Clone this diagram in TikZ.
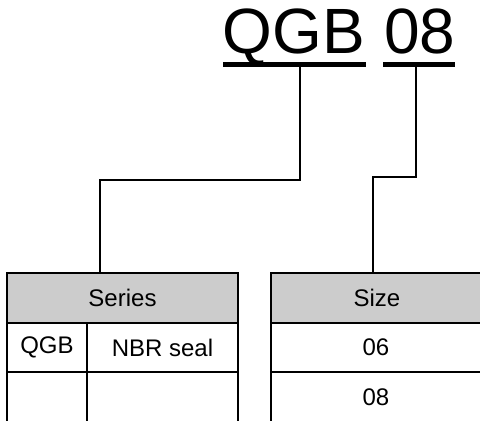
\documentclass[tikz,border=0pt]{standalone}
\usepackage{fontspec}
\setmainfont{Liberation Sans}
\definecolor{hdrgray}{HTML}{CCCCCC}
\begin{document}
\begin{tikzpicture}[x=1pt,y=-1pt,
  title/.style={inner sep=0pt, anchor=base, font=\fontsize{64}{74}\selectfont},
  ulbar/.style={fill=black, draw=none, inner sep=0pt, minimum height=4.5pt},
  hdr/.style={draw, line width=2.2pt, fill=hdrgray, inner sep=0pt, minimum height=50pt, font=\fontsize{24}{28}\selectfont},
  celltext/.style={inner sep=0pt, font=\fontsize{24}{28}\selectfont},
  grid/.style={line width=2.2pt},
  conn/.style={line width=1.6pt}]
\useasboundingbox (0,0) rectangle (480,421);
% title
\node[title] (tq) at (294,53) {QGB};
\node[title] (t8) at (420,53) {08};
\node[ulbar, minimum width=143pt] (ulq) at (294.5,64.5) {};
\node[ulbar, minimum width=72pt] (ul8) at (419,64.5) {};
% left table
\node[hdr, minimum width=231pt] (series) at (122.5,298) {Series};
\draw[grid] (7,323) -- (7,421);
\draw[grid] (238,323) -- (238,421);
\draw[grid] (87,323) -- (87,421);
\draw[grid] (7,372) -- (238,372);
\node[celltext] (cq) at (47,347.5) {QGB};
\node[celltext] (cn) at (162.5,347.5) {NBR seal};
% right table
\node[hdr, minimum width=212pt] (size) at (377,298) {Size};
\draw[grid] (271,323) -- (271,421);
\draw[grid] (271,372) -- (483,372);
\node[celltext] (s6) at (376,347.5) {06};
\node[celltext] (s8) at (376,397.5) {08};
% connectors
\coordinate (q1) at (300,66);
\coordinate (q2) at (300,180);
\coordinate (q3) at (100,180);
\draw[conn] (q1) -- (q2) -- (q3) -- (q3 |- series.north);
\coordinate (e1) at (416,66);
\coordinate (e2) at (416,177);
\coordinate (e3) at (373,177);
\draw[conn] (e1) -- (e2) -- (e3) -- (e3 |- size.north);
\end{tikzpicture}
\end{document}
